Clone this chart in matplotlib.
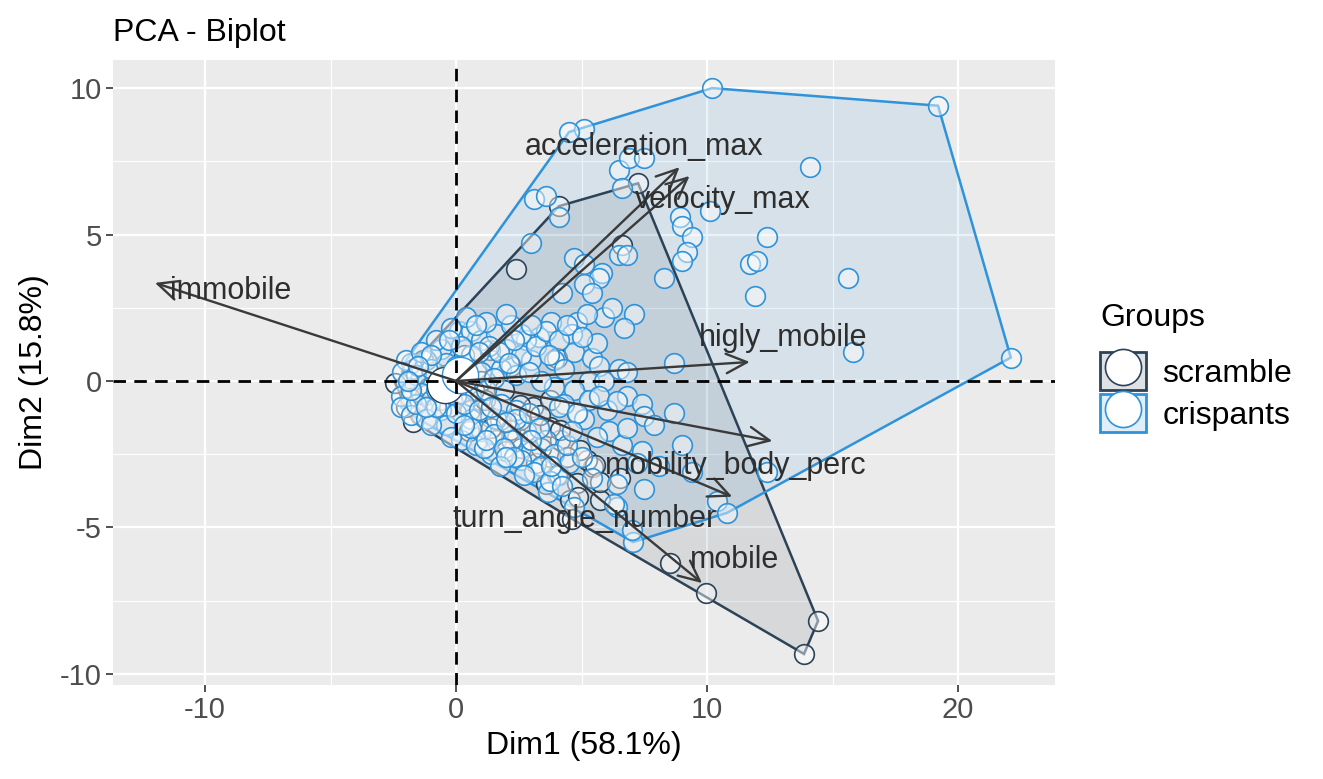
import numpy as np
import matplotlib
matplotlib.use("Agg")
import matplotlib.pyplot as plt
from matplotlib.patches import Polygon, Patch
from matplotlib.lines import Line2D
from matplotlib.legend_handler import HandlerTuple

plt.rcParams['font.family'] = ['Liberation Sans', 'DejaVu Sans']
plt.rcParams['axes.unicode_minus'] = False

# individuals (Dim1, Dim2)
crispants = np.array([
    (10.2, 10.0), (19.2, 9.4), (22.1, 0.8), (5.1, 8.6), (4.5, 8.5), (6.5, 7.2),
    (6.9, 7.6), (7.5, 7.6), (6.6, 6.6), (3.1, 6.2), (3.6, 6.3), (4.1, 5.6),
    (3.0, 4.7), (8.9, 5.6), (9.0, 5.3), (9.4, 4.9), (9.2, 4.4), (9.0, 4.1),
    (10.1, 5.8), (12.4, 4.9), (11.7, 4.0), (12.0, 4.1), (14.1, 7.3), (15.6, 3.5),
    (11.9, 2.9), (15.8, 1.0), (4.7, 4.2), (6.5, 4.3), (6.8, 4.3), (8.3, 3.5),
    (5.1, 4.0), (5.8, 3.7), (5.7, 3.5), (5.1, 3.3), (5.4, 3.0), (4.2, 3.0),
    (5.9, 2.2), (6.2, 2.5), (7.1, 2.3), (6.7, 1.8), (3.8, 2.0), (4.8, 2.0),
    (4.6, 1.6), (3.3, 1.5), (2.8, 1.4), (4.7, 1.0), (5.4, 0.8), (5.7, 0.5),
    (3.9, 0.7), (3.0, 0.7), (6.5, 0.4), (6.8, 0.3), (8.7, 0.6), (5.3, 0.0),
    (5.9, 0.0), (6.8, -0.5), (7.4, -0.8), (8.7, -1.1), (7.5, -1.2), (4.7, -0.3),
    (4.3, -0.8), (3.9, -0.2), (9.0, -2.2), (7.4, -2.4), (6.1, -1.7), (5.6, -1.9),
    (7.2, -2.8), (8.1, -2.9), (9.4, -3.1), (10.4, -4.1), (10.8, -4.5), (6.4, -3.5),
    (7.5, -3.7), (6.4, -4.3), (7.05, -5.5), (7.0, -5.1), (6.3, -4.2), (12.4, -3.1),
    (3.65, -3.8), (4.7, -4.3), (5.2, 2.3), (5.6, 1.3),
    (0.1, 1.7), (0.6, 1.7), (1.0, 1.4), (1.6, 1.6), (2.2, 1.9), (-0.6, 1.1),
    (-1.2, 0.7), (-1.8, 0.6), (-2.0, 0.7), (-2.15, 0.3), (-1.6, 0.2), (-1.0, 0.4),
    (0.6, 0.9), (1.4, 0.7), (2.0, 1.1), (2.6, 0.9), (3.2, 1.2), (3.6, 1.7),
    (4.1, 1.4), (1.8, 0.4), (2.4, 0.2), (3.4, 0.0), (1.0, 0.3), (0.4, 2.2),
    (-0.2, 1.8), (-0.8, 1.4), (1.2, 2.0), (2.0, 2.3), (2.6, 1.6), (0.2, 1.2),
    (1.3, 1.2), (-0.4, 0.6), (0.0, 0.5), (2.9, 0.3), (4.3, 0.4), (-1.4, 1.0),
    (-2.2, -0.5), (-2.2, -0.9), (-1.8, -1.15), (-1.4, -0.4), (-1.0, -0.65),
    (-1.6, -0.8), (-0.6, -1.0), (-1.2, -1.3), (-0.4, -1.5), (0.2, -2.0),
    (0.8, -2.2), (0.6, -1.3), (1.0, -1.7), (1.6, -1.3), (1.8, -0.8), (2.4, -1.0),
    (2.8, -1.7), (2.2, -2.0), (3.0, -2.4), (3.6, -2.0), (3.9, -2.5), (3.4, -2.9),
    (4.1, -3.2), (2.6, -2.7), (1.4, -2.5), (0.6, -0.5), (1.2, -0.3), (0.0, -0.5),
    (-0.4, -0.1), (-0.8, -0.3), (0.0, -1.1), (0.6, -1.6), (1.5, -1.8), (2.4, -1.3),
    (1.1, -2.3), (1.9, -2.3), (2.3, -2.6), (3.1, -3.1), (3.75, -3.4), (4.5, -2.8),
    (5.1, -1.3), (4.1, -0.9), (5.3, -0.65), (4.8, -1.1), (6.0, -1.0), (-0.2, -1.9),
    (1.75, -2.9), (-1.0, -1.5),
    (0.3, 0.3), (0.9, 1.0), (1.7, 1.0), (2.3, 1.4), (3.0, 1.9), (0.8, 1.9),
    (-0.3, 1.4), (-1.0, 0.9), (-1.5, 0.5), (2.1, 0.6), (3.7, 0.9), (4.4, 1.9),
    (5.0, 1.5), (1.5, 0.1), (0.3, -0.8), (0.9, -1.0), (1.4, -0.9), (2.0, -1.4),
    (2.9, -1.1), (3.3, -1.6), (3.0, -2.0), (4.4, -2.2), (4.6, -1.7), (3.8, -2.9),
    (2.7, -3.2), (1.2, -2.0), (-0.8, -0.9), (-1.8, -0.3), (-1.9, 0.0), (-1.2, -0.9),
    (0.3, -1.5), (2.0, -2.6), (4.2, -3.6), (5.4, -3.3), (5.0, -2.6), (6.6, -2.2),
    (6.8, -1.6), (5.7, -0.5), (6.4, -0.7), (7.9, -1.5),
])

scramble = np.array([
    (13.86, -9.32), (14.42, -8.19), (9.96, -7.24), (8.53, -6.2), (7.25, 6.75),
    (4.1, 5.97), (6.6, 4.64), (2.4, 3.82), (-2.43, -0.07),
    (5.46, -2.94), (4.82, -3.48), (4.54, -4.06), (5.74, -4.06), (5.22, -2.7),
    (3.75, -2.59), (4.14, -2.01), (3.75, -1.57), (2.43, -1.91), (2.55, -1.33),
    (3.07, -0.89), (3.75, -0.65), (1.35, -1.23), (0.96, -0.65), (4.82, -1.09),
    (4.86, -3.96), (4.6, -4.7), (5.54, -2.87), (6.53, -3.3), (5.74, -3.45),
    (1.35, 1.06), (-1.31, 0.72), (4.0, 0.8),
    (-1.24, -0.48), (-0.64, -0.65), (-1.83, -0.58), (0.56, -0.99), (1.75, -1.33),
    (2.15, -1.67), (1.16, -0.65), (2.55, -0.82), (3.35, -1.16), (2.95, -2.01),
    (4.14, -1.67), (4.94, -2.35), (-1.7, -1.4), (-2.0, -0.9), (-0.9, 0.3),
    (0.3, 0.9), (-1.7, 0.4), (0.8, 0.4), (1.9, -0.3), (0.2, -0.4), (3.2, -2.8),
    (4.0, -3.2), (2.6, -2.3), (1.6, -2.0), (0.5, -1.7),
    (1.0, 0.0), (2.2, 0.5), (-0.3, -0.9), (1.4, -1.6), (3.4, -2.3), (2.0, -2.4),
    (4.4, -2.6), (3.6, -3.5), (-1.1, -0.2), (-0.5, 0.2), (0.7, -0.3),
])

group_names = ['scramble', 'crispants']
group_colors = ['#2C4257', '#2E93DA']
group_means = [(-0.45, -0.15), (0.15, 0.2)]

# variables (arrows) and where their labels sit
var_names = ['immobile', 'acceleration_max', 'velocity_max', 'higly_mobile',
             'mobility_body_perc', 'turn_angle_number', 'mobile']
var_x = [-12.0, 8.9, 9.3, 11.7, 12.6, 11.0, 9.8]
var_y = [3.35, 7.3, 7.0, 0.65, -2.05, -3.95, -6.9]
lab_x = [-9.0, 7.5, 10.64, 13.03, 11.16, 5.1, 11.1]
lab_y = [3.07, 8.0, 6.18, 1.47, -2.9, -4.71, -6.11]


def convex_hull(pts):
    pts = sorted(set(map(tuple, pts)))

    def cross(o, a, b):
        return (a[0] - o[0]) * (b[1] - o[1]) - (a[1] - o[1]) * (b[0] - o[0])

    lower, upper = [], []
    for p in pts:
        while len(lower) >= 2 and cross(lower[-2], lower[-1], p) <= 0:
            lower.pop()
        lower.append(p)
    for p in reversed(pts):
        while len(upper) >= 2 and cross(upper[-2], upper[-1], p) <= 0:
            upper.pop()
        upper.append(p)
    return np.array(lower[:-1] + upper[:-1])


fig = plt.figure(figsize=(13.23, 7.79), dpi=100)
ax = fig.add_axes([113 / 1323, 1 - 685 / 779, (1055 - 113) / 1323, (685 - 60) / 779])
ax.set_facecolor('#EBEBEB')
for s in ax.spines.values():
    s.set_visible(False)

ax.set_xlim(-13.67, 23.86)
ax.set_ylim(-10.38, 10.96)
ax.set_xticks([-10, 0, 10, 20])
ax.set_yticks([-10, -5, 0, 5, 10])
ax.set_xticks([-5, 5, 15], minor=True)
ax.set_yticks([-7.5, -2.5, 2.5, 7.5], minor=True)
ax.grid(which='major', color='white', lw=1.6)
ax.grid(which='minor', color='white', lw=0.8)
ax.set_axisbelow(True)
ax.tick_params(which='major', length=5, width=1.2, color='#333333',
               labelsize=21, labelcolor='#4D4D4D', pad=3)
ax.tick_params(which='minor', length=0)

groups = [scramble, crispants]
for pts, col in zip(groups, group_colors):
    h = convex_hull(pts)
    ax.add_patch(Polygon(h, closed=True, facecolor=col, alpha=0.11,
                         edgecolor='none', zorder=1))
    ax.add_patch(Polygon(h, closed=True, facecolor='none', edgecolor=col,
                         lw=1.8, zorder=1.5))

for pts, col in zip(groups, group_colors):
    ax.scatter(pts[:, 0], pts[:, 1], s=200, facecolors=(1, 1, 1, 0.45),
               edgecolors=col, linewidths=1.2, zorder=2)

for (mx, my), col in zip(group_means, group_colors):
    ax.scatter([mx], [my], s=680, facecolors='white', edgecolors=col,
               linewidths=1.0, zorder=3)

ax.axhline(0, color='black', lw=2.0, dashes=(4.5, 3), zorder=4)
ax.axvline(0, color='black', lw=2.0, dashes=(4.5, 3), zorder=4)

for vx, vy in zip(var_x, var_y):
    ax.annotate('', xy=(vx, vy), xytext=(0, 0), zorder=5,
                arrowprops=dict(arrowstyle='->,head_length=0.75,head_width=0.35',
                                color='#3A3A3A', lw=1.7, shrinkA=0, shrinkB=0,
                                mutation_scale=20))
for name, lx, ly in zip(var_names, lab_x, lab_y):
    ax.text(lx, ly, name, ha='center', va='center', fontsize=22,
            color='#2E2E2E', zorder=6)

ax.set_xlabel('Dim1 (58.1%)', fontsize=23, labelpad=5)
ax.set_ylabel('Dim2 (15.8%)', fontsize=23, labelpad=8)
ax.set_title('PCA - Biplot', loc='left', fontsize=23, pad=14)

handles = []
for col in group_colors:
    box = Patch(facecolor=matplotlib.colors.to_rgba(col, 0.15), edgecolor=col, lw=2)
    dot = Line2D([], [], ls='none', marker='o', markersize=26,
                 markerfacecolor='white', markeredgecolor=col, markeredgewidth=1.2)
    handles.append((box, dot))
leg = fig.legend(handles, group_names, loc='upper left',
                 bbox_to_anchor=(1100 / 1323, 1 - 303 / 779), frameon=False,
                 title='Groups', fontsize=23, title_fontsize=23,
                 handler_map={tuple: HandlerTuple(ndivide=1, pad=0)},
                 handlelength=1.45, handleheight=1.45, labelspacing=0.12,
                 handletextpad=0.5, borderpad=0, borderaxespad=0)
leg._legend_box.align = 'left'
leg._legend_box.sep = 14

fig.savefig('out.png', dpi=100)
